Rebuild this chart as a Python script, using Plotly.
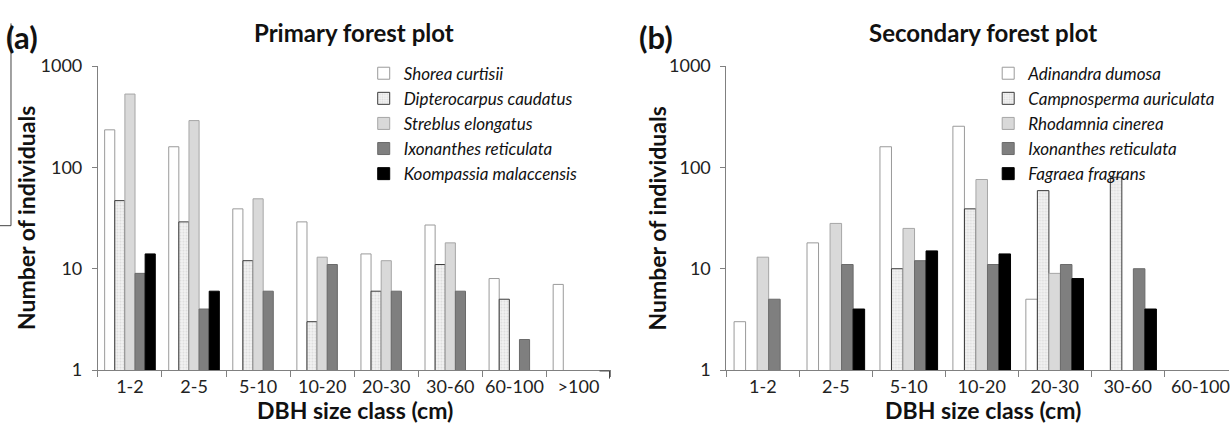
import plotly.graph_objects as go

W, H = 1230, 437

# ---- data ----
classes_primary = ['1-2', '2-5', '5-10', '10-20', '20-30', '30-60', '60-100', '>100']
classes_secondary = ['1-2', '2-5', '5-10', '10-20', '20-30', '30-60', '60-100']

# primary forest plot (None = no individuals)
shorea = [235, 160, 39, 29, 14, 27, 8, 7]
dipterocarpus = [47, 29, 12, 3, 6, 11, 5, None]
streblus = [530, 290, 49, 13, 12, 18, None, None]
ixonanthes_p = [9, 4, 6, 11, 6, 6, 2, None]
koompassia = [14, 6, None, None, None, None, None, None]

# secondary forest plot
adinandra = [3, 18, 160, 255, 5, None, None]
campnosperma = [None, None, 10, 39, 59, 80, None]
rhodamnia = [13, 28, 25, 76, 9, None, None]
ixonanthes_s = [5, 11, 12, 11, 11, 10, None]
fagraea = [None, 4, 15, 14, 8, 4, None]

primary_names = ['Shorea curtisii', 'Dipterocarpus caudatus', 'Streblus elongatus',
                 'Ixonanthes reticulata', 'Koompassia malaccensis']
secondary_names = ['Adinandra dumosa', 'Campnosperma auriculata', 'Rhodamnia cinerea',
                   'Ixonanthes reticulata', 'Fagraea fragrans']

FONT = 'Lato'

# bar styles shared by both panels
styles = [
    dict(color='white', line=dict(color='#9a9a9a', width=1)),
    dict(color='#f2f2f2', line=dict(color='#3a3a3a', width=1),
         pattern=dict(shape='.', fgcolor='#c4c4c4', bgcolor='#f2f2f2', size=3, solidity=0.35)),
    dict(color='#d9d9d9', line=dict(color='#a6a6a6', width=1)),
    dict(color='#7f7f7f', line=dict(color='#6a6a6a', width=1)),
    dict(color='#000000', line=dict(color='#000000', width=1)),
]


def px(x):
    return x / W


def py(y):
    return 1 - y / H


fig = go.Figure()

for name, vals, st in zip(primary_names,
                          [shorea, dipterocarpus, streblus, ixonanthes_p, koompassia], styles):
    fig.add_trace(go.Bar(x=classes_primary, y=vals, name=name, marker=st,
                         xaxis='x', yaxis='y', legend='legend'))

for name, vals, st in zip(secondary_names,
                          [adinandra, campnosperma, rhodamnia, ixonanthes_s, fagraea], styles):
    fig.add_trace(go.Bar(x=classes_secondary, y=vals, name=name, marker=st,
                         xaxis='x2', yaxis='y2', legend='legend2'))

yaxis_common = dict(
    type='log', range=[0, 3], tickvals=[1, 10, 100, 1000], ticktext=['1', '10', '100', '1000'],
    showline=True, linecolor='#808080', linewidth=1, ticks='outside', ticklen=5,
    tickcolor='#808080', showgrid=False, zeroline=False, ticklabelstandoff=6,
    tickfont=dict(family=FONT, size=18, color='#222'),
)
xaxis_common = dict(
    type='category', showline=True, linecolor='#808080', linewidth=1,
    ticks='outside', ticklen=6, tickcolor='#808080', tickson='boundaries', tickangle=0,
    showgrid=False, zeroline=False, tickfont=dict(family=FONT, size=18, color='#222'),
)

plot_bottom, plot_top = 377, 57
legend_font = dict(family=FONT, size=17, style='italic', color='#111')

fig.update_layout(
    width=W, height=H,
    margin=dict(l=0, r=0, t=0, b=0),
    paper_bgcolor='white', plot_bgcolor='white',
    barmode='group', bargap=0.21, bargroupgap=0,
    font=dict(family=FONT, color='#111'),
    xaxis=dict(xaxis_common, domain=[px(98), px(611)], anchor='y'),
    yaxis=dict(yaxis_common, domain=[py(plot_bottom), py(plot_top)], anchor='x'),
    xaxis2=dict(xaxis_common, domain=[px(727), 1.0], anchor='y2', range=[-0.5, 6.39]),
    yaxis2=dict(yaxis_common, domain=[py(plot_bottom), py(plot_top)], anchor='x2'),
    legend=dict(x=px(364), y=py(46), xanchor='left', yanchor='top', font=legend_font,
                bgcolor='rgba(0,0,0,0)', tracegroupgap=0, itemwidth=30),
    legend2=dict(x=px(989), y=py(46), xanchor='left', yanchor='top', font=legend_font,
                 bgcolor='rgba(0,0,0,0)', tracegroupgap=0, itemwidth=30),
    showlegend=True,
)

ann = []
# panel letters and titles
ann.append(dict(text='<b>(a)</b>', x=px(4), y=py(26), xanchor='left', yanchor='middle',
                font=dict(size=31)))
ann.append(dict(text='<b>Primary forest plot</b>', x=px(354), y=py(22), xanchor='center',
                yanchor='middle', font=dict(size=24)))
ann.append(dict(text='<b>(b)</b>', x=px(638), y=py(26), xanchor='left', yanchor='middle',
                font=dict(size=31)))
ann.append(dict(text='<b>Secondary forest plot</b>', x=px(984), y=py(22), xanchor='center',
                yanchor='middle', font=dict(size=24)))
# axis titles
for xc in (26, 658):
    ann.append(dict(text='<b>Number of individuals</b>', x=px(xc), y=py(217), textangle=-90,
                    xanchor='center', yanchor='middle', font=dict(size=23)))
for xc in (355, 984):
    ann.append(dict(text='<b>DBH size class (cm)</b>', x=px(xc), y=py(419), xanchor='center',
                    yanchor='middle', font=dict(size=23)))
for a in ann:
    a.update(xref='paper', yref='paper', showarrow=False)
fig.update_layout(annotations=ann)

# stray frame-line fragments present in the original figure
frame = dict(type='line', xref='paper', yref='paper', line=dict(color='#444', width=1))
fig.add_shape(frame, x0=px(11), x1=px(11), y0=py(12), y1=py(225))
fig.add_shape(frame, x0=0, x1=px(11), y0=py(225), y1=py(225))
fig.add_shape(frame, x0=px(600), x1=px(610), y0=py(378), y1=py(378))
fig.add_shape(frame, x0=px(610), x1=px(610), y0=py(378), y1=py(386))

# drop the default page margin so the figure sits flush in the window
fig.write_html('out.html', config={'displayModeBar': False},
               post_script="document.body.style.margin='0';document.body.style.overflow='hidden';")
